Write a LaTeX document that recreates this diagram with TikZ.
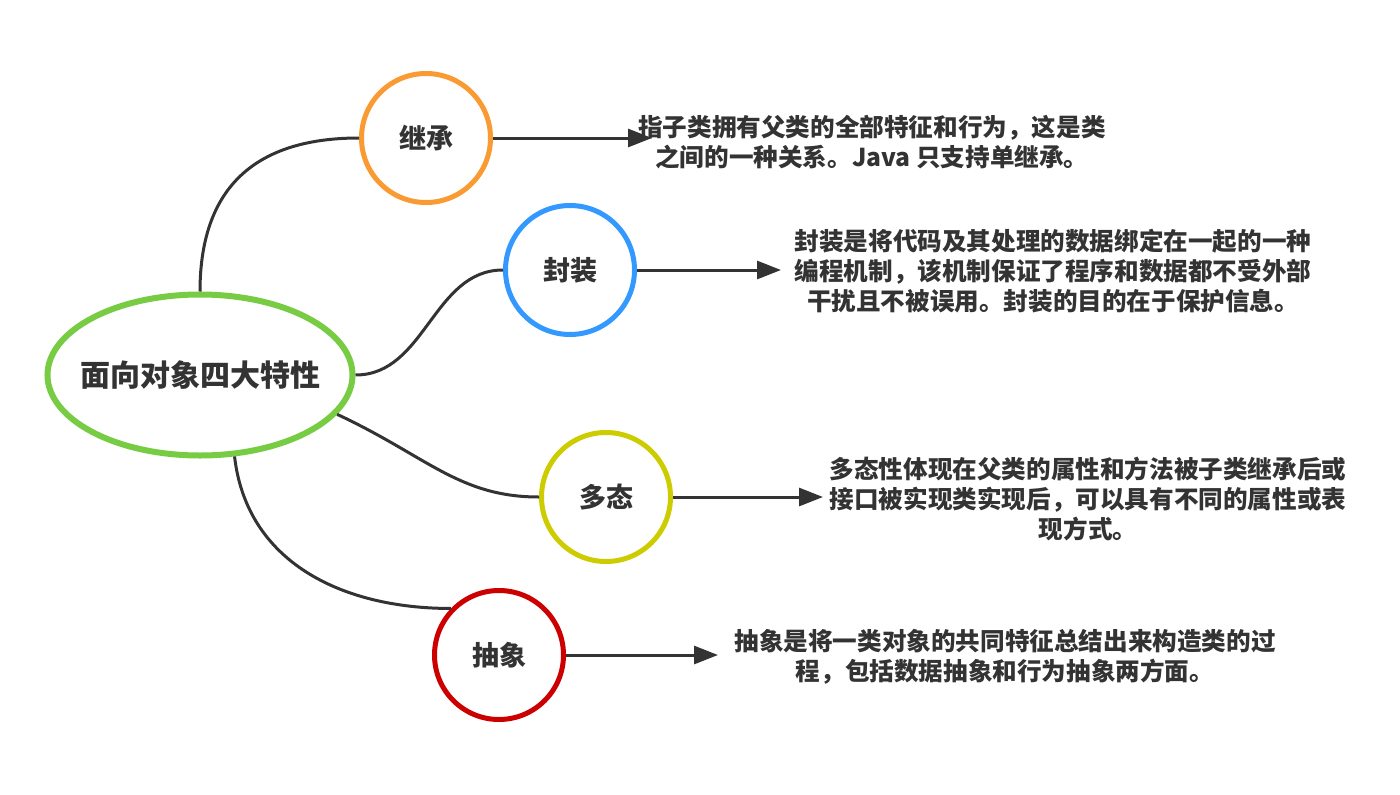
\documentclass[tikz,border=0pt]{standalone}
\usepackage{fontspec}
\newfontfamily\cjk{Noto Sans CJK SC}
\usetikzlibrary{arrows.meta, positioning, shapes.geometric}

\definecolor{inkgray}{HTML}{333333}
\definecolor{coregreen}{HTML}{77CC44}
\definecolor{jcorange}{HTML}{FA9A33}
\definecolor{fzblue}{HTML}{3399FF}
\definecolor{dtyellow}{HTML}{CCCC00}
\definecolor{cxred}{HTML}{CC0000}

\begin{document}
\begin{tikzpicture}[
    x=1pt, y=-1pt,
    >={Triangle[length=24pt, width=18pt]},
    topic/.style={draw, circle, line width=5pt, minimum size=129pt,
                  inner sep=0pt, fill=white, text=inkgray,
                  font=\cjk\bfseries\fontsize{27}{32}\selectfont},
    desc/.style={align=center, text=inkgray,
                 font=\cjk\bfseries\fontsize{24.6}{30}\selectfont},
    link/.style={line width=3pt, draw=inkgray}
  ]
  \useasboundingbox (0,0) rectangle (1400,795);

  % Centre topic
  \node[ellipse, draw=coregreen, line width=6pt, fill=white,
        minimum width=305pt, minimum height=161pt,
        inner xsep=-14pt, inner ysep=0pt,
        text=inkgray, font=\cjk\bfseries\fontsize{30}{36}\selectfont]
    (core) at (200, 375) {面向对象四大特性};

  % The four features
  \foreach \name/\txt/\col/\x/\y in {
    jc/继承/jcorange/426/138, fz/封装/fzblue/570/270,
    dt/多态/dtyellow/606/497, cx/抽象/cxred/499/655} {
    \node[topic, draw=\col] (\name) at (\x, \y) {\txt};
  }

  % Branches from the centre
  \draw[link] (core.north) .. controls +(0,-112) and +(-95,0) .. (jc.west);
  \draw[link] (core.east) .. controls +(70,0) and +(-70,0) .. (fz.west);
  \draw[link] (core.-16) .. controls +(90,42) and +(-80,0) .. (dt.west);
  \draw[link] (core.-67) .. controls +(12,105) and +(-110,0) .. (cx.136);

  % Descriptions
  \node[desc] (jcdesc) at (872, 142)
    {指子类拥有父类的全部特征和行为，这是类\\之间的一种关系。Java 只支持单继承。};
  \node[desc] (fzdesc) at (1053, 271)
    {封装是将代码及其处理的数据绑定在一起的一种\\编程机制，该机制保证了程序和数据都不受外部\\干扰且不被误用。封装的目的在于保护信息。};
  \node[desc] (dtdesc) at (1088, 499)
    {多态性体现在父类的属性和方法被子类继承后或\\接口被实现类实现后，可以具有不同的属性或表\\现方式。};
  \node[desc] (cxdesc) at (1005, 657)
    {抽象是将一类对象的共同特征总结出来构造类的过\\程，包括数据抽象和行为抽象两方面。};

  % Arrow ends
  \coordinate (jcend) at (652, 138);
  \coordinate (fzend) at (781, 270);
  \coordinate (dtend) at (823, 497);
  \coordinate (cxend) at (718, 655);
  \foreach \name in {jc, fz, dt, cx}
    \draw[link, ->] (\name.east) -- (\name end);
\end{tikzpicture}
\end{document}
